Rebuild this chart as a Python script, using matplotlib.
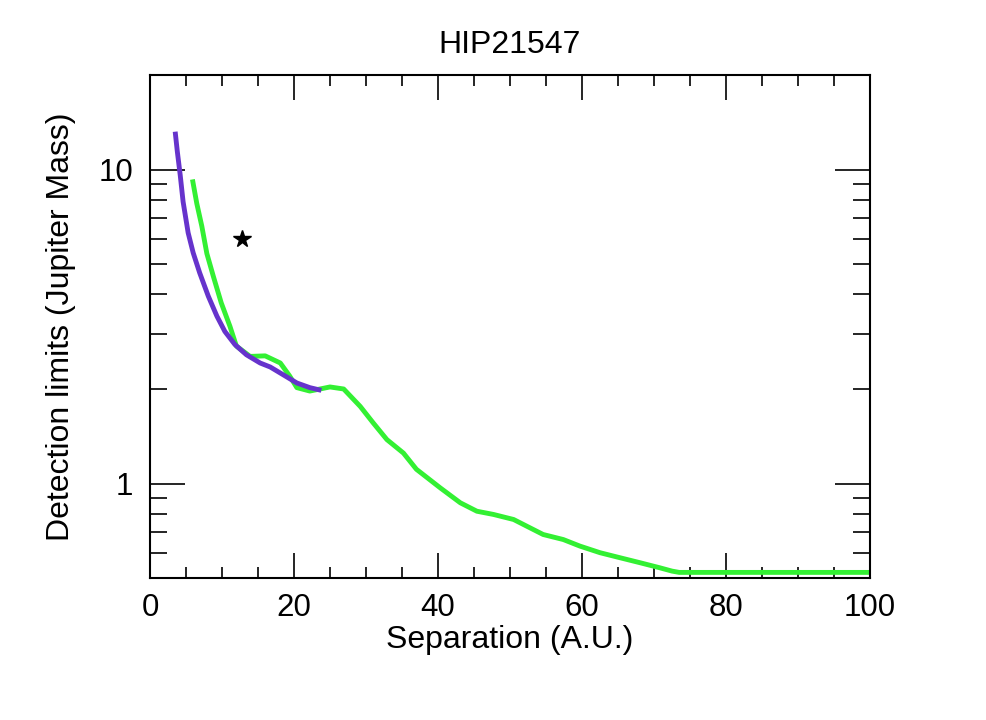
import numpy as np
import matplotlib
matplotlib.use('Agg')
import matplotlib.pyplot as plt
from matplotlib.ticker import LogLocator, FixedLocator, MultipleLocator, NullFormatter

plt.rcParams['font.family'] = ['Liberation Sans', 'DejaVu Sans']

# green curve (longer range)
sep_green = [5.9, 6.5, 7.2, 7.9, 8.8, 9.9, 11.1, 12.0, 13.9, 16.0, 18.1, 19.4, 20.4,
             22.2, 25.0, 26.9, 29.2, 31.0, 32.9, 35.2, 37.0, 40.3, 43.1, 45.4, 47.7,
             50.5, 52.8, 54.6, 57.4, 59.7, 62.5, 65.3, 68.1, 70.8, 72.5, 73.5, 100.0]
lim_green = [9.3, 7.8, 6.6, 5.4, 4.57, 3.76, 3.17, 2.74, 2.54, 2.55, 2.42, 2.2, 2.02,
             1.97, 2.03, 2.0, 1.76, 1.56, 1.38, 1.25, 1.11, 0.969, 0.868, 0.816, 0.797,
             0.768, 0.722, 0.688, 0.663, 0.632, 0.602, 0.58, 0.559, 0.539, 0.526, 0.521, 0.521]

# purple curve (short range)
sep_purple = [3.5, 3.8, 4.2, 4.6, 5.3, 6.0, 6.9, 8.1, 9.3, 10.4, 11.8, 13.4, 15.3, 16.7,
              18.5, 20.4, 22.2, 23.8]
lim_purple = [13.2, 11.4, 9.6, 7.9, 6.29, 5.43, 4.69, 3.95, 3.41, 3.05, 2.77, 2.57, 2.42, 2.35,
              2.22, 2.09, 2.02, 1.98]

# companion marker
star_sep = [12.8]
star_mass = [6.0]

fig = plt.figure(figsize=(9.86, 7.2), dpi=100)
ax = fig.add_axes([0.1521, 0.1972, 0.7303, 0.6986])

ax.plot(sep_green, lim_green, color='#33f033', lw=3.5, solid_capstyle='butt')
ax.plot(sep_purple, lim_purple, color='#6633cc', lw=3.5, solid_capstyle='butt')
ax.plot(star_sep, star_mass, ls='none', marker='*', color='black', ms=13)

ax.set_yscale('log')
ax.set_xlim(0, 100)
ax.set_ylim(0.5, 20)

ax.xaxis.set_major_locator(MultipleLocator(20))
ax.xaxis.set_minor_locator(MultipleLocator(5))
ax.yaxis.set_major_locator(FixedLocator([1, 10]))
ax.yaxis.set_major_formatter(plt.FixedFormatter(['1', '10']))
ax.yaxis.set_minor_locator(LogLocator(base=10, subs=np.arange(2, 10)))
ax.yaxis.set_minor_formatter(NullFormatter())

ax.tick_params(which='both', direction='in', top=True, right=True, width=1.2, labelsize=22.5)
ax.tick_params(axis='x', which='major', length=18, pad=11)
ax.tick_params(axis='x', which='minor', length=8)
ax.tick_params(axis='y', which='major', length=25, pad=12)
ax.tick_params(axis='y', which='minor', length=12)
for s in ax.spines.values():
    s.set_linewidth(1.5)

ax.set_title('HIP21547', fontsize=23, pad=16)
ax.set_xlabel('Separation (A.U.)', fontsize=23, labelpad=1)
ax.set_ylabel('Detection limits (Jupiter Mass)', fontsize=23, labelpad=16)

plt.savefig('out.png', dpi=100)
